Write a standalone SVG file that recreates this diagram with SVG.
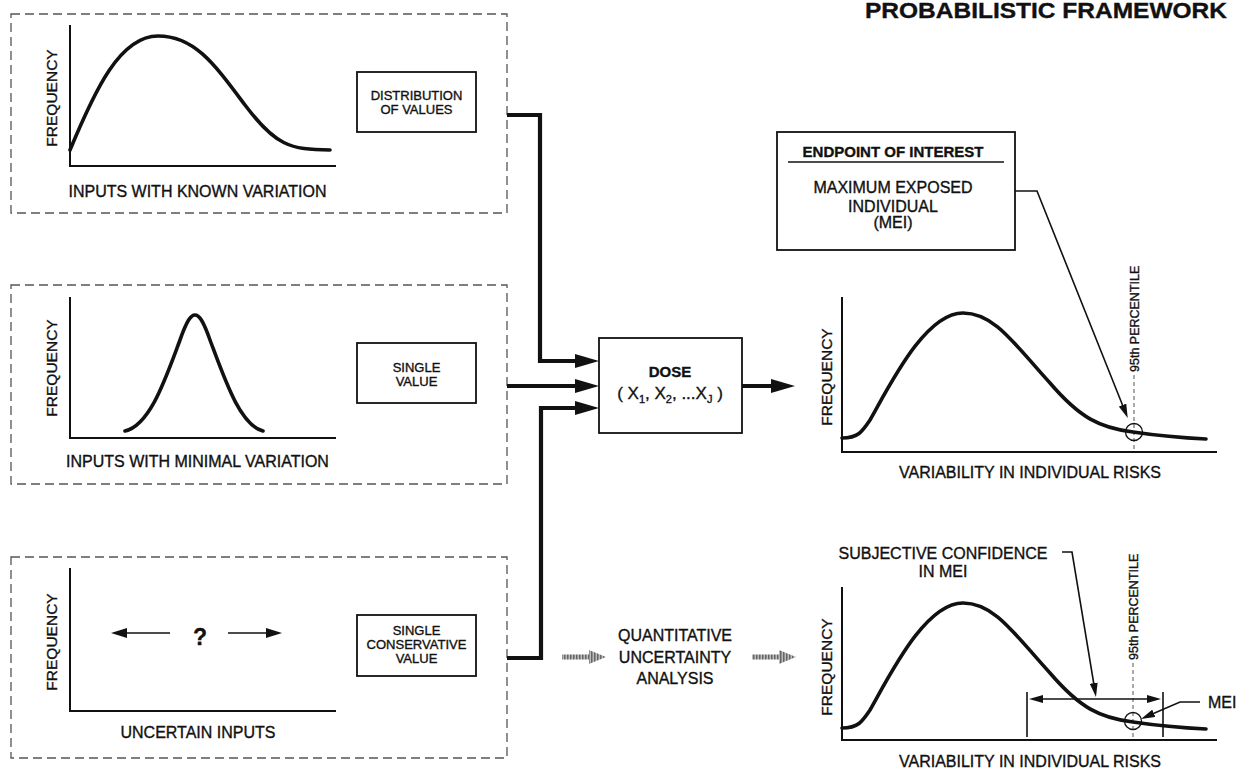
<svg xmlns="http://www.w3.org/2000/svg" width="1241" height="773" viewBox="0 0 1241 773">
<style>
text{font-family:"Liberation Sans",Arial,sans-serif;fill:#111;stroke:#111;stroke-width:0.35}
.panel{fill:none;stroke:#555;stroke-width:1.3;stroke-dasharray:9 5}
.axis{fill:none;stroke:#111;stroke-width:2}
.curve{fill:none;stroke:#111;stroke-width:3.6;stroke-linecap:round;stroke-linejoin:round}
.box{fill:#fff;stroke:#111;stroke-width:1.8}
.lbl{font-size:16px}
.sm{font-size:13px}
.freq{font-size:15.5px;text-anchor:middle}
.pct{font-size:12.5px}
.thick{fill:none;stroke:#111;stroke-width:4.2}
.thin{fill:none;stroke:#111;stroke-width:1.6}
.vdash{fill:none;stroke:#555;stroke-width:1;stroke-dasharray:4 3}
.mid{text-anchor:middle}
</style>
<defs>
<marker id="big" viewBox="0 0 24 14" refX="14" refY="7" markerWidth="24" markerHeight="14" markerUnits="userSpaceOnUse" orient="auto"><path d="M0,0 L24,7 L0,14 z" fill="#111"/></marker>
<marker id="thinA" viewBox="0 0 14 8" refX="8" refY="4" markerWidth="14" markerHeight="8" markerUnits="userSpaceOnUse" orient="auto"><path d="M0,0 L14,4 L0,8 z" fill="#111"/></marker>
<marker id="q" viewBox="0 0 16 10" refX="8" refY="5" markerWidth="16" markerHeight="10" markerUnits="userSpaceOnUse" orient="auto"><path d="M0,0 L16,5 L0,10 z" fill="#111"/></marker>
<pattern id="hatch" width="3" height="4" patternUnits="userSpaceOnUse"><rect width="3" height="4" fill="#bbb"/><rect width="1.5" height="4" fill="#666"/></pattern>
</defs>
<rect width="1241" height="773" fill="#fff"/>

<text x="865" y="18" font-size="22" font-weight="bold" textLength="362" lengthAdjust="spacingAndGlyphs">PROBABILISTIC FRAMEWORK</text>

<g id="panel-known">
<rect class="panel" x="11" y="14" width="496" height="199"/>
<path class="axis" d="M70,25 V166 H336"/>
<path class="curve" d="M70,150 C95,90 120,36 158,36 C195,36 215,65 245,105 C275,145 290,150 330,150"/>
<text class="freq" transform="translate(57,98) rotate(-90)">FREQUENCY</text>
<text class="lbl mid" x="197.5" y="197">INPUTS WITH KNOWN VARIATION</text>
</g>
<g id="box-distribution">
<rect class="box" x="357" y="72" width="119" height="60"/>
<text class="sm mid" x="416.5" y="100">DISTRIBUTION</text>
<text class="sm mid" x="416.5" y="114">OF VALUES</text>
</g>

<g id="panel-minimal">
<rect class="panel" x="11" y="285" width="496" height="199"/>
<path class="axis" d="M70,297 V438 H336"/>
<path class="curve" d="M125,431 C150,425 165,380 180,340 C187,320 191,315 195,315 C199,315 203,320 210,340 C225,380 240,425 263,431"/>
<text class="freq" transform="translate(57,368) rotate(-90)">FREQUENCY</text>
<text class="lbl mid" x="197.5" y="467">INPUTS WITH MINIMAL VARIATION</text>
</g>
<g id="box-single">
<rect class="box" x="357" y="343" width="119" height="60"/>
<text class="sm mid" x="416.5" y="372">SINGLE</text>
<text class="sm mid" x="416.5" y="386">VALUE</text>
</g>

<g id="panel-uncertain">
<rect class="panel" x="11" y="557" width="496" height="201"/>
<path class="axis" d="M70,568 V711 H336"/>
<line class="thin" x1="170" y1="633" x2="119" y2="633" marker-end="url(#q)"/>
<line class="thin" x1="228" y1="633" x2="274" y2="633" marker-end="url(#q)"/>
<text x="200" y="645" font-size="23" font-weight="bold" class="mid">?</text>
<text class="freq" transform="translate(57,642) rotate(-90)">FREQUENCY</text>
<text class="lbl mid" x="198" y="738">UNCERTAIN INPUTS</text>
</g>
<g id="box-conservative">
<rect class="box" x="357" y="615" width="119" height="61"/>
<text class="sm mid" x="416.5" y="635">SINGLE</text>
<text class="sm mid" x="416.5" y="649" textLength="100" lengthAdjust="spacingAndGlyphs">CONSERVATIVE</text>
<text class="sm mid" x="416.5" y="663">VALUE</text>
</g>

<g id="dose">
<rect class="box" x="599" y="338" width="143" height="95"/>
<text class="mid" x="670" y="377" font-size="15" font-weight="bold">DOSE</text>
<text class="mid" x="670" y="399" font-size="17">( X<tspan font-size="11" dy="4">1</tspan><tspan dy="-4">, X</tspan><tspan font-size="11" dy="4">2</tspan><tspan dy="-4">, ...X</tspan><tspan font-size="11" dy="4">J</tspan><tspan dy="-4"> )</tspan></text>
</g>

<g id="quant">
<text class="lbl mid" x="675" y="641">QUANTITATIVE</text>
<text class="lbl mid" x="675" y="663">UNCERTAINTY</text>
<text class="lbl mid" x="675" y="684">ANALYSIS</text>
</g>

<g id="endpoint">
<rect class="box" x="777" y="132" width="238" height="118"/>
<text class="mid" x="893" y="157" font-size="15" font-weight="bold">ENDPOINT OF INTEREST</text>
<line x1="788" y1="162" x2="1004" y2="162" stroke="#111" stroke-width="1.4"/>
<text class="lbl mid" x="893" y="193">MAXIMUM EXPOSED</text>
<text class="lbl mid" x="893" y="212">INDIVIDUAL</text>
<text class="lbl mid" x="893" y="228">(MEI)</text>
</g>

<g id="chart-variability">
<path class="axis" d="M842,297 V452 H1217"/>
<line class="vdash" x1="1134" y1="375" x2="1134" y2="452"/>
<path class="curve" d="M842,438 C858,438 862,432 870,420 C890,385 925,313 963,313 C995,313 1015,345 1050,383 C1080,418 1100,428 1133,432 C1160,436 1185,438 1206,439"/>
<circle cx="1134" cy="432" r="8.5" fill="none" stroke="#111" stroke-width="1.3"/>
<text class="pct" transform="translate(1139,372) rotate(-90)">95th PERCENTILE</text>
<text class="freq" transform="translate(832,377) rotate(-90)">FREQUENCY</text>
<text class="lbl mid" x="1030" y="478">VARIABILITY IN INDIVIDUAL RISKS</text>
</g>

<g id="chart-uncertainty">
<path class="axis" d="M842,587 V740 H1217"/>
<line class="vdash" x1="1133" y1="663" x2="1133" y2="740"/>
<path class="curve" transform="translate(0,290)" d="M842,438 C858,438 862,432 870,420 C890,385 925,313 963,313 C995,313 1015,345 1050,383 C1080,418 1100,428 1133,432 C1160,436 1185,438 1206,439"/>
<circle cx="1133" cy="721" r="8.5" fill="none" stroke="#111" stroke-width="1.3"/>
<text class="pct" transform="translate(1138,660) rotate(-90)">95th PERCENTILE</text>
<text class="freq" transform="translate(832,667) rotate(-90)">FREQUENCY</text>
<text class="lbl mid" x="1030" y="767">VARIABILITY IN INDIVIDUAL RISKS</text>
<line class="thin" x1="1027" y1="692" x2="1027" y2="737"/>
<line class="thin" x1="1163" y1="692" x2="1163" y2="737"/>
<text class="lbl mid" x="943" y="559">SUBJECTIVE CONFIDENCE</text>
<text class="lbl mid" x="943" y="577">IN MEI</text>
<text class="lbl" x="1208" y="708">MEI</text>
</g>

<g id="connectors">
<path class="thick" d="M507,115 H540 V361 H589" marker-end="url(#big)"/>
<path class="thick" d="M507,386 H589" marker-end="url(#big)"/>
<path class="thick" d="M507,658 H541 V408 H589" marker-end="url(#big)"/>
<path class="thick" d="M742,386 H785" marker-end="url(#big)"/>
<path d="M562,654.5 H589 V650 L606,657 L589,664 V659.5 H562 Z" fill="url(#hatch)"/>
<path d="M752,654.5 H779 V650 L796,657 L779,664 V659.5 H752 Z" fill="url(#hatch)"/>
<path class="thin" d="M1015,191 H1037 L1125.5,412.5" marker-end="url(#thinA)"/>
<line class="thin" x1="1090" y1="699" x2="1035" y2="699" marker-end="url(#thinA)"/>
<line class="thin" x1="1090" y1="699" x2="1155" y2="699" marker-end="url(#thinA)"/>
<path class="thin" d="M1062,552 H1072 L1095,691" marker-end="url(#thinA)"/>
<path class="thin" d="M1200,702 H1180 L1146.5,716.5" marker-end="url(#thinA)"/>
</g>
</svg>
